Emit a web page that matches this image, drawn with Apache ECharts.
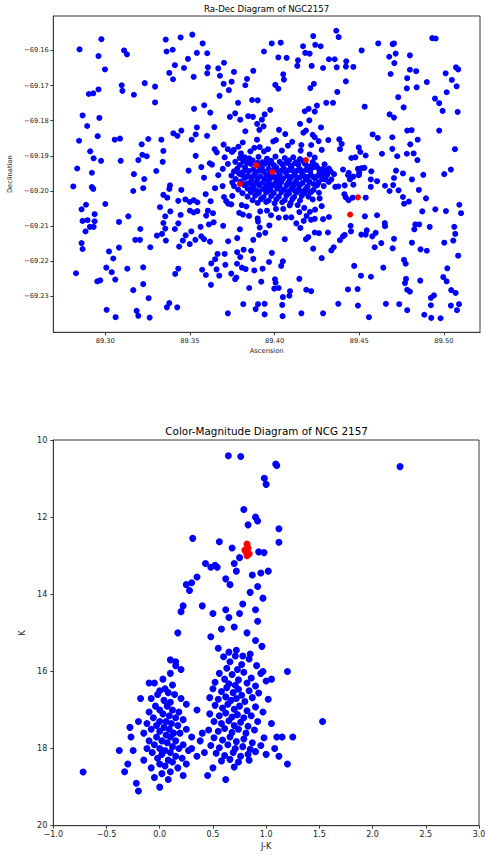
<!DOCTYPE html>
<html><head><meta charset="utf-8">
<script src="https://cdn.jsdelivr.net/npm/echarts@6/dist/echarts.min.js"></script>
<style>html,body{margin:0;padding:0;background:#fff}#c{width:485px;height:855px}</style>
</head><body><div id="c"></div>
<script>
// ---- Ra-Dec diagram data ----
const raDecField = [
[89.2848,-69.1597],[89.2977,-69.1568],[89.2960,-69.1616],[89.2998,-69.1654],[89.3111,-69.1600],[89.3128,-69.1611],[89.3357,-69.1569],[89.3445,-69.1563],[89.3514,-69.1555],[89.3362,-69.1603],[89.3398,-69.1598],[89.3488,-69.1624],[89.3411,-69.1642],[89.3465,-69.1650],[89.3378,-69.1664],[89.3400,-69.1682],[89.3522,-69.1675],[89.3541,-69.1607],[89.3097,-69.1699],[89.3101,-69.1715],[89.2960,-69.1711],[89.2903,-69.1724],[89.2929,-69.1722],[89.3169,-69.1726],[89.3233,-69.1693],[89.3294,-69.1703],[89.3294,-69.1748],[89.3524,-69.1766],[89.2866,-69.1785],[89.2965,-69.1792],[89.2893,-69.1815],[89.2845,-69.1857],[89.2955,-69.1844],[89.3056,-69.1854],[89.3087,-69.1851],[89.3215,-69.1867],[89.3254,-69.1852],[89.3331,-69.1854],[89.3402,-69.1836],[89.3426,-69.1843],[89.3449,-69.1828],[89.3510,-69.1854],[89.3534,-69.1839],[89.3541,-69.1819],[89.2911,-69.1887],[89.2931,-69.1907],[89.2975,-69.1914],[89.3091,-69.1914],[89.3195,-69.1912],[89.3219,-69.1897],[89.3245,-69.1901],[89.3343,-69.1886],[89.3339,-69.1917],[89.3534,-69.1900],[89.2834,-69.1936],[89.2921,-69.1948],[89.3169,-69.1952],[89.3301,-69.1943],[89.3492,-69.1942],
[89.3575,-69.1580],[89.3602,-69.1608],[89.3606,-69.1648],[89.3602,-69.1665],[89.3667,-69.1651],[89.3701,-69.1635],[89.3677,-69.1672],[89.3760,-69.1661],[89.3699,-69.1695],[89.3746,-69.1689],[89.3730,-69.1713],[89.3837,-69.1681],[89.3827,-69.1699],[89.3874,-69.1658],[89.3937,-69.1603],[89.3983,-69.1580],[89.4036,-69.1578],[89.4022,-69.1620],[89.4071,-69.1621],[89.4138,-69.1628],[89.4134,-69.1644],[89.4168,-69.1588],[89.4181,-69.1607],[89.4207,-69.1609],[89.4228,-69.1559],[89.4240,-69.1584],[89.4272,-69.1588],[89.4219,-69.1644],[89.4286,-69.1650],[89.4321,-69.1625],[89.4364,-69.1544],[89.4378,-69.1562],[89.4355,-69.1625],[89.4367,-69.1648],[89.4051,-69.1668],[89.4055,-69.1683],[89.4004,-69.1698],[89.4022,-69.1709],[89.4232,-69.1695],[89.4211,-69.1707],[89.4370,-69.1718],[89.3675,-69.1729],[89.3584,-69.1756],[89.3620,-69.1777],[89.3784,-69.1749],[89.3867,-69.1741],[89.3900,-69.1742],[89.3974,-69.1769],[89.3736,-69.1789],[89.3767,-69.1779],[89.3797,-69.1797],[89.3844,-69.1787],[89.3872,-69.1789],[89.3897,-69.1809],[89.3925,-69.1797],[89.3941,-69.1782],[89.3935,-69.1816],[89.3910,-69.1826],[89.3827,-69.1830],[89.3644,-69.1818],[89.3601,-69.1843],[89.4026,-69.1826],[89.4063,-69.1838],[89.4008,-69.1855],[89.3896,-69.1854],[89.4178,-69.1773],[89.4201,-69.1766],[89.4237,-69.1774],[89.4250,-69.1757],[89.4305,-69.1749],[89.4345,-69.1749],[89.4150,-69.1809],[89.4205,-69.1799],[89.4170,-69.1834],[89.4185,-69.1828],[89.4225,-69.1840],[89.4237,-69.1847],[89.4260,-69.1858],[89.4274,-69.1819],[89.4317,-69.1855],[89.4382,-69.1853],[89.4278,-69.1883],[89.4216,-69.1869],[89.4158,-69.1869],[89.4104,-69.1860],[89.4079,-69.1871],[89.4043,-69.1885],[89.3992,-69.1859],[89.3961,-69.1881],[89.3937,-69.1887],[89.3912,-69.1875],[89.3880,-69.1877],[89.3857,-69.1887],[89.3812,-69.1862],[89.3786,-69.1874],[89.3759,-69.1883],[89.3724,-69.1881],[89.3699,-69.1868],[89.3646,-69.1881],[89.3658,-69.1890],[89.3705,-69.1904],[89.3748,-69.1889],[89.3801,-69.1893],[89.3617,-69.1921],[89.3630,-69.1925],[89.3567,-69.1932],[89.3694,-69.1937],[89.3724,-69.1923],[89.3768,-69.1917],[89.3794,-69.1906],[89.3824,-69.1904],[89.3839,-69.1920],[89.4154,-69.1885],[89.4207,-69.1896],[89.4237,-69.1905],[89.4254,-69.1934],[89.4286,-69.1937],[89.4331,-69.1944],[89.4351,-69.1952],[89.4386,-69.1881],[89.4205,-69.1931],
[89.4514,-69.1600],[89.4612,-69.1580],[89.4697,-69.1582],[89.4705,-69.1580],[89.4677,-69.1618],[89.4715,-69.1609],[89.4707,-69.1636],[89.4799,-69.1614],[89.4931,-69.1565],[89.4951,-69.1566],[89.4423,-69.1631],[89.4421,-69.1646],[89.4465,-69.1647],[89.4421,-69.1688],[89.4685,-69.1667],[89.4783,-69.1679],[89.4799,-69.1655],[89.4836,-69.1659],[89.4781,-69.1708],[89.4839,-69.1705],[89.4899,-69.1690],[89.5010,-69.1665],[89.5047,-69.1684],[89.5071,-69.1648],[89.5084,-69.1654],[89.5075,-69.1702],[89.5016,-69.1719],[89.4947,-69.1737],[89.4972,-69.1750],[89.4992,-69.1772],[89.5081,-69.1775],[89.4730,-69.1733],[89.4762,-69.1762],[89.4532,-69.1760],[89.4679,-69.1782],[89.4705,-69.1791],[89.4579,-69.1839],[89.4609,-69.1849],[89.4695,-69.1847],[89.4783,-69.1828],[89.4809,-69.1827],[89.4972,-69.1828],[89.4845,-69.1854],[89.4801,-69.1867],[89.4695,-69.1880],[89.4724,-69.1901],[89.4781,-69.1894],[89.4821,-69.1893],[89.4843,-69.1912],[89.4634,-69.1894],[89.5065,-69.1881],[89.4396,-69.1866],[89.4453,-69.1906],[89.4477,-69.1904],[89.4497,-69.1876],[89.4506,-69.1889],[89.4538,-69.1899],[89.4404,-69.1939],[89.4438,-69.1948],[89.4492,-69.1937],[89.4514,-69.1935],[89.4530,-69.1934],[89.4571,-69.1944],[89.4500,-69.1948],[89.4717,-69.1942],[89.4758,-69.1950],[89.4878,-69.1954],[89.5002,-69.1952],[89.5041,-69.1939],
[89.3230,-69.1966],[89.2811,-69.1987],[89.2921,-69.1989],[89.2929,-69.1994],[89.3165,-69.2000],[89.3224,-69.1992],[89.3382,-69.1984],[89.3378,-69.1994],[89.3449,-69.1997],[89.3343,-69.2011],[89.3366,-69.2019],[89.3431,-69.2028],[89.3473,-69.2024],[89.3499,-69.2031],[89.3522,-69.2026],[89.3544,-69.2032],[89.2860,-69.2052],[89.2886,-69.2039],[89.3000,-69.2037],[89.3323,-69.2046],[89.3384,-69.2058],[89.3354,-69.2072],[89.3445,-69.2068],[89.3500,-69.2056],[89.3522,-69.2061],[89.3544,-69.2057],[89.2937,-69.2066],[89.2866,-69.2085],[89.2895,-69.2083],[89.2937,-69.2086],[89.2909,-69.2102],[89.2931,-69.2102],[89.2883,-69.2115],[89.3081,-69.2088],[89.3136,-69.2072],[89.3343,-69.2091],[89.3431,-69.2092],[89.3411,-69.2108],[89.3354,-69.2107],[89.3335,-69.2122],[89.3305,-69.2127],[89.3358,-69.2141],[89.3207,-69.2108],[89.3177,-69.2139],[89.3205,-69.2139],[89.3266,-69.2160],[89.3458,-69.2141],[89.3475,-69.2126],[89.3508,-69.2115],[89.3499,-69.2151],[89.3436,-69.2158],[89.3532,-69.2139],[89.2860,-69.2148],[89.2866,-69.2165],[89.3022,-69.2172],[89.3081,-69.2161],[89.3047,-69.2192],[89.2827,-69.2234],[89.3006,-69.2218],[89.3038,-69.2231],[89.3059,-69.2252],[89.2953,-69.2257],[89.2970,-69.2254],[89.3130,-69.2221],[89.3224,-69.2217],[89.3224,-69.2265],[89.3165,-69.2282],[89.3256,-69.2305],[89.3413,-69.2236],[89.3431,-69.2221],[89.3378,-69.2319],[89.3364,-69.2331],[89.3425,-69.2331],[89.3008,-69.2338],[89.3061,-69.2359],[89.3185,-69.2341],[89.3195,-69.2355],[89.3262,-69.2360],
[89.3583,-69.1962],[89.3667,-69.1955],[89.3693,-69.1986],[89.3648,-69.1992],[89.3593,-69.2009],[89.3622,-69.2029],[89.3606,-69.2056],[89.3636,-69.2063],[89.3596,-69.2070],[89.3640,-69.2089],[89.3612,-69.2095],[89.3563,-69.2102],[89.3696,-69.2099],[89.3567,-69.2129],[89.3583,-69.2137],[89.3618,-69.2144],[89.3726,-69.2143],[89.3795,-69.2109],[89.3779,-69.2134],[89.3874,-69.2139],[89.3908,-69.2125],[89.3945,-69.2119],[89.4060,-69.2137],[89.3817,-69.2167],[89.3861,-69.2170],[89.3779,-69.2174],[89.3797,-69.2188],[89.3705,-69.2179],[89.3663,-69.2179],[89.3649,-69.2194],[89.3626,-69.2206],[89.3572,-69.2224],[89.3594,-69.2239],[89.3657,-69.2223],[89.3673,-69.2241],[89.3709,-69.2210],[89.3744,-69.2235],[89.3778,-69.2207],[89.3774,-69.2246],[89.3767,-69.2251],[89.3807,-69.2218],[89.3829,-69.2222],[89.3880,-69.2226],[89.3874,-69.2193],[89.3929,-69.2221],[89.3967,-69.2202],[89.3984,-69.2176],[89.4039,-69.2213],[89.4049,-69.2200],[89.3921,-69.2258],[89.4002,-69.2251],[89.4006,-69.2261],[89.3998,-69.2278],[89.4024,-69.2276],[89.3850,-69.2276],[89.3624,-69.2267],[89.4146,-69.2250],[89.4091,-69.2285],[89.4087,-69.2298],[89.4049,-69.2302],[89.4187,-69.2281],[89.4216,-69.2285],[89.4228,-69.2164],[89.4278,-69.2191],[89.4335,-69.2169],[89.4349,-69.2160],[89.4386,-69.2140],[89.4315,-69.2118],[89.4237,-69.2118],[89.4262,-69.2120],[89.4185,-69.2137],[89.4199,-69.2131],[89.3815,-69.2322],[89.3902,-69.2322],[89.3941,-69.2321],[89.3888,-69.2336],[89.3941,-69.2351],[89.4045,-69.2324],[89.4047,-69.2356],[89.3724,-69.2348],[89.4158,-69.2348],[89.4286,-69.2348],[89.4376,-69.2321],[89.4321,-69.2074],[89.4286,-69.2080],[89.4358,-69.1988],[89.4376,-69.1987],[89.4335,-69.1967],[89.4299,-69.1967],[89.4239,-69.2053],[89.4278,-69.2043],[89.4266,-69.2021],[89.4262,-69.2005],[89.4225,-69.2024],[89.4175,-69.2048],[89.4209,-69.2059],[89.4215,-69.2082],[89.4172,-69.2085],[89.4152,-69.2105],[89.4128,-69.2092],[89.4099,-69.2075],[89.4067,-69.2075],[89.4024,-69.2076],[89.3979,-69.2069],[89.3969,-69.2098],[89.3912,-69.2104],[89.3902,-69.2087],[89.3900,-69.2078],[89.3915,-69.2058],[89.3955,-69.2056],[89.3849,-69.2071],[89.3813,-69.2067],[89.3791,-69.2062],[89.3806,-69.2040],[89.3833,-69.2044],[89.4008,-69.2051],[89.4051,-69.2051],[89.4089,-69.2041],[89.4136,-69.2040],[89.4146,-69.2060],[89.4189,-69.2071],[89.4237,-69.2079],[89.3726,-69.2036],[89.3750,-69.2014],[89.3701,-69.2017],[89.3714,-69.2029],[89.3744,-69.2038],
[89.4434,-69.1955],[89.4445,-69.1967],[89.4465,-69.1959],[89.4497,-69.1955],[89.4568,-69.1967],[89.4605,-69.1972],[89.4705,-69.1963],[89.4811,-69.1967],[89.4414,-69.1984],[89.4465,-69.1982],[89.4568,-69.1988],[89.4652,-69.1985],[89.4700,-69.1983],[89.4679,-69.2000],[89.4732,-69.1998],[89.4852,-69.1997],[89.4412,-69.2009],[89.4420,-69.2018],[89.4437,-69.2026],[89.4461,-69.2019],[89.4538,-69.2019],[89.4758,-69.2017],[89.4765,-69.2036],[89.4793,-69.2030],[89.4894,-69.2021],[89.4533,-69.2072],[89.4605,-69.2069],[89.4651,-69.2091],[89.4652,-69.2100],[89.4449,-69.2099],[89.4451,-69.2115],[89.4414,-69.2125],[89.4404,-69.2129],[89.4512,-69.2124],[89.4544,-69.2112],[89.4538,-69.2124],[89.4577,-69.2129],[89.4597,-69.2119],[89.4591,-69.2160],[89.4630,-69.2148],[89.4705,-69.2136],[89.4697,-69.2163],[89.4811,-69.2147],[89.4831,-69.2095],[89.4854,-69.2095],[89.4825,-69.2109],[89.4872,-69.2058],[89.4949,-69.2052],[89.5012,-69.2057],[89.5091,-69.2039],[89.5101,-69.2063],[89.4916,-69.2102],[89.5061,-69.2102],[89.5067,-69.2122],[89.5055,-69.2141],[89.5002,-69.2147],[89.4862,-69.2166],[89.4899,-69.2170],[89.5084,-69.2184],[89.4470,-69.2213],[89.4642,-69.2218],[89.4764,-69.2196],[89.4774,-69.2207],[89.5020,-69.2220],[89.4510,-69.2241],[89.4569,-69.2244],[89.4776,-69.2250],[89.4770,-69.2262],[89.4860,-69.2255],[89.4996,-69.2245],[89.5016,-69.2257],[89.4433,-69.2280],[89.4490,-69.2279],[89.4783,-69.2281],[89.4799,-69.2286],[89.5043,-69.2282],[89.5069,-69.2290],[89.4941,-69.2297],[89.4923,-69.2304],[89.4492,-69.2326],[89.4657,-69.2321],[89.4736,-69.2322],[89.4783,-69.2339],[89.4923,-69.2325],[89.5041,-69.2326],[89.5089,-69.2322],[89.5077,-69.2339],[89.4884,-69.2352],[89.4925,-69.2361],[89.4980,-69.2362],[89.4557,-69.2359]
];
const raDecCore = [
[89.3850,-69.1907],[89.3905,-69.1903],[89.3955,-69.1908],[89.4005,-69.1902],[89.4060,-69.1906],[89.4110,-69.1904],[89.4150,-69.1909],
[89.3815,-69.1916],[89.3870,-69.1913],[89.3930,-69.1918],[89.3980,-69.1914],[89.4030,-69.1917],[89.4085,-69.1913],[89.4130,-69.1918],[89.4170,-69.1915],[89.4225,-69.1918],
[89.3795,-69.1926],[89.3860,-69.1923],[89.3910,-69.1927],[89.3945,-69.1922],[89.3995,-69.1926],[89.4045,-69.1924],[89.4095,-69.1928],[89.4140,-69.1925],[89.4180,-69.1923],[89.4245,-69.1927],[89.4295,-69.1924],
[89.3780,-69.1936],[89.3825,-69.1933],[89.3875,-69.1938],[89.3925,-69.1934],[89.3965,-69.1937],[89.4010,-69.1933],[89.4055,-69.1936],[89.4100,-69.1934],[89.4150,-69.1938],[89.4195,-69.1935],[89.4230,-69.1932],[89.4320,-69.1936],
[89.3760,-69.1944],[89.3810,-69.1947],[89.3850,-69.1943],[89.3890,-69.1946],[89.3935,-69.1944],[89.3975,-69.1948],[89.4020,-69.1944],[89.4065,-69.1947],[89.4110,-69.1943],[89.4160,-69.1946],[89.4210,-69.1944],[89.4265,-69.1948],[89.4300,-69.1945],
[89.3745,-69.1956],[89.3800,-69.1953],[89.3840,-69.1957],[89.3880,-69.1954],[89.3915,-69.1958],[89.3950,-69.1953],[89.3990,-69.1956],[89.4030,-69.1954],[89.4075,-69.1957],[89.4120,-69.1953],[89.4170,-69.1956],[89.4215,-69.1955],[89.4250,-69.1958],[89.4310,-69.1954],
[89.3770,-69.1966],[89.3825,-69.1963],[89.3865,-69.1967],[89.3900,-69.1964],[89.3940,-69.1966],[89.3980,-69.1963],[89.4015,-69.1967],[89.4050,-69.1964],[89.4090,-69.1966],[89.4135,-69.1963],[89.4185,-69.1967],[89.4240,-69.1964],[89.4280,-69.1966],
[89.3750,-69.1976],[89.3800,-69.1973],[89.3850,-69.1977],[89.3895,-69.1974],[89.3930,-69.1976],[89.3965,-69.1973],[89.4005,-69.1977],[89.4040,-69.1974],[89.4080,-69.1976],[89.4125,-69.1973],[89.4165,-69.1977],[89.4205,-69.1974],[89.4260,-69.1976],[89.4320,-69.1974],
[89.3760,-69.1986],[89.3820,-69.1983],[89.3870,-69.1987],[89.3910,-69.1984],[89.3950,-69.1986],[89.3990,-69.1983],[89.4030,-69.1987],[89.4070,-69.1984],[89.4110,-69.1986],[89.4150,-69.1983],[89.4195,-69.1987],[89.4250,-69.1984],[89.4290,-69.1986],
[89.3785,-69.1996],[89.3840,-69.1993],[89.3885,-69.1997],[89.3935,-69.1994],[89.3975,-69.1996],[89.4015,-69.1993],[89.4055,-69.1997],[89.4100,-69.1994],[89.4140,-69.1996],[89.4185,-69.1993],[89.4230,-69.1997],
[89.3810,-69.2006],[89.3860,-69.2003],[89.3905,-69.2007],[89.3950,-69.2004],[89.3995,-69.2006],[89.4040,-69.2003],[89.4085,-69.2007],[89.4130,-69.2004],[89.4175,-69.2006],[89.4215,-69.2003],
[89.3840,-69.2016],[89.3885,-69.2013],[89.3935,-69.2017],[89.3980,-69.2014],[89.4025,-69.2016],[89.4070,-69.2013],[89.4115,-69.2017],[89.4160,-69.2014],[89.4200,-69.2016],
[89.3870,-69.2026],[89.3920,-69.2023],[89.3965,-69.2027],[89.4010,-69.2024],[89.4060,-69.2026],[89.4105,-69.2023],[89.4150,-69.2027],
[89.3900,-69.2034],[89.3950,-69.2031],[89.4000,-69.2035],[89.4045,-69.2032],[89.4095,-69.2034],
[89.3830,-69.1940],[89.3912,-69.1941],[89.3995,-69.1940],[89.4042,-69.1941],[89.4088,-69.1940],[89.4135,-69.1941],[89.4185,-69.1940],
[89.3820,-69.1960],[89.3860,-69.1961],[89.3970,-69.1960],[89.4010,-69.1961],[89.4100,-69.1960],[89.4150,-69.1961],[89.4195,-69.1960],[89.4230,-69.1961],
[89.3830,-69.1980],[89.3880,-69.1981],[89.3970,-69.1980],[89.4020,-69.1981],[89.4100,-69.1980],[89.4140,-69.1981],[89.4230,-69.1980],
[89.3860,-69.2000],[89.3910,-69.2001],[89.3960,-69.2000],[89.4080,-69.2001],[89.4120,-69.2000],[89.4160,-69.2001],[89.4200,-69.2000],
[89.3900,-69.1920],[89.3970,-69.1921],[89.4070,-69.1920],[89.4120,-69.1921],[89.4200,-69.1930],[89.4270,-69.1940],[89.4280,-69.1955],[89.3790,-69.1950]
];
const raDecRed = [[89.3892,-69.1927],[89.3986,-69.1946],[89.4185,-69.1912],[89.3795,-69.1980],[89.4492,-69.2018],[89.4446,-69.2067]];

// ---- Colour-magnitude diagram data: [J-K, K] ----
const cmdBright = [
[0.645,10.41],[0.761,10.43],[1.09,10.62],[1.10,10.66],[2.258,10.69],[0.983,10.99],[1.0,11.15],
[0.79,11.8],[0.83,12.2],[0.90,12.0],[0.92,12.1],[1.12,12.3],[1.12,12.65],[0.31,12.55],[0.56,12.64],
[0.93,12.9],[0.98,12.92],[0.68,12.8],[0.75,13.05],[0.70,13.2],[0.43,13.2],[0.48,13.3],[0.52,13.25],[0.54,13.3],
[0.72,13.4],[0.95,13.45],[1.02,13.4],[0.87,13.5],[0.35,13.55],[0.30,13.7],[0.25,13.75],[0.62,13.6],[0.66,13.75],
[0.92,13.8],[0.85,13.95],[0.97,14.1],[0.28,13.9],[0.22,14.3],[0.20,14.45],[0.40,14.3],[0.50,14.5],[0.62,14.4],
[0.65,14.6],[0.75,14.5],[0.78,14.25],[0.90,14.4],[0.92,14.7],[0.70,14.85],[0.58,14.9],[0.17,15.0],[0.48,15.1],
[0.82,15.0],[0.90,15.2],[0.96,15.35],[0.55,15.4],[0.65,15.5],[0.72,15.45],[0.78,15.6],[0.85,15.55],[0.10,15.7],[0.15,15.85]
];
const cmdGiants = [
[0.60,15.62],[0.66,15.75],[0.71,15.6],[0.77,15.82],[0.84,15.68],[0.91,15.85],[0.63,15.92],[0.73,15.95],
[0.56,16.05],[0.61,16.2],[0.68,16.08],[0.74,16.22],[0.79,16.02],[0.86,16.17],[0.95,16.05],[0.52,16.28],[0.65,16.32],[0.71,16.36],[0.82,16.3],[0.90,16.38],[1.00,16.25],
[0.50,16.45],[0.58,16.52],[0.63,16.42],[0.69,16.55],[0.74,16.46],[0.77,16.62],[0.84,16.5],[0.93,16.56],[0.47,16.68],[0.55,16.72],[0.62,16.66],[0.67,16.75],[0.72,16.7],[0.80,16.78],[0.87,16.68],[1.02,16.72],
[0.52,16.88],[0.59,16.95],[0.64,16.85],[0.70,16.98],[0.75,16.9],[0.82,17.02],[0.90,16.92],[0.97,17.05],[0.47,17.1],[0.56,17.15],[0.62,17.08],[0.68,17.18],[0.73,17.12],[0.79,17.2],[0.86,17.15],
[0.51,17.3],[0.58,17.35],[0.65,17.28],[0.70,17.4],[0.76,17.32],[0.83,17.42],[0.92,17.3],[1.05,17.35],[0.46,17.52],[0.55,17.55],[0.61,17.48],[0.68,17.58],[0.74,17.5],[0.81,17.6],[0.89,17.52],
[0.51,17.72],[0.59,17.78],[0.66,17.7],[0.72,17.82],[0.79,17.75],[0.87,17.85],[0.98,17.72],[1.10,17.7],[0.48,17.92],[0.56,17.98],[0.64,17.9],[0.71,18.0],[0.78,17.95],[0.85,18.02],[0.95,17.92],
[0.53,18.12],[0.61,18.18],[0.69,18.1],[0.76,18.2],[0.83,18.15],[0.90,18.08],[1.00,18.15],[0.58,18.32],[0.66,18.28],[0.74,18.35],[0.84,18.3],[0.50,18.5],[0.70,18.48],
[1.20,16.0],[1.05,16.2],[1.15,17.7],[1.25,17.7],[1.20,18.4],[0.35,17.0],[0.40,17.6],[0.35,18.2],[0.30,18.0],[0.45,18.7],[0.62,18.8],[1.53,17.3],
[1.08,18.0],[1.12,18.2],[0.97,16.0],[0.42,18.1],[0.38,17.8]
];
const cmdDwarfs = [
[0.15,15.75],[0.20,15.95],[0.10,16.05],[0.03,16.2],[-0.05,16.3],[-0.10,16.3],[0.12,16.35],[0.05,16.45],[0.00,16.5],[0.08,16.55],[-0.02,16.6],[0.14,16.6],[0.20,16.7],[-0.08,16.7],[0.04,16.75],[0.10,16.8],[0.25,16.85],[-0.04,16.9],[0.07,16.9],[0.00,17.0],[0.12,17.0],[0.18,17.05],[-0.10,17.05],[0.03,17.1],[0.09,17.15],[-0.06,17.2],[0.15,17.2],[0.22,17.25],[0.00,17.3],[0.06,17.3],[0.11,17.35],[-0.12,17.35],[-0.03,17.4],[0.17,17.4],[0.04,17.45],[0.09,17.5],[0.25,17.5],[-0.08,17.5],[0.00,17.55],[0.13,17.6],[0.19,17.6],[-0.15,17.6],[0.06,17.65],[-0.03,17.7],[0.10,17.7],[0.30,17.7],[0.02,17.8],[0.15,17.8],[-0.10,17.8],[0.07,17.85],[0.22,17.9],[-0.05,17.9],[0.12,17.95],[0.00,18.0],[0.18,18.0],[-0.12,18.0],[0.05,18.05],[0.27,18.05],[0.10,18.1],[-0.07,18.1],[0.02,18.15],[0.15,18.2],[-0.02,18.25],[0.21,18.25],[0.08,18.3],[-0.15,18.3],[0.12,18.35],[0.00,18.4],[0.25,18.4],[0.05,18.45],[-0.08,18.5],[0.17,18.5],[0.10,18.6],[0.02,18.65],[0.22,18.7],[-0.05,18.75],[0.08,18.8],[0.00,19.0],
[-0.25,18.05],[-0.30,18.4],[-0.28,17.45],[-0.33,18.6],[-0.22,18.9],[-0.20,19.1],[-0.38,18.05],[-0.27,17.7],[-0.20,17.3],[-0.18,16.7],[-0.72,18.61]
];
const cmdRed = [[0.82,12.7],[0.83,12.8],[0.81,12.9],[0.84,12.95],[0.82,13.0],[0.80,12.85]];

const raTicks = [89.30, 89.35, 89.40, 89.45, 89.50];
const decTicks = [-69.16, -69.17, -69.18, -69.19, -69.20, -69.21, -69.22, -69.23];

const FONT = '"DejaVu Sans", sans-serif';
const minus = s => s.replace('-', '\u2212');
const axisCol = '#3a3a3a';
const chart = echarts.init(document.getElementById('c'), null, {renderer: 'svg'});

function axisCommon(fs, margin) {
  return {
    splitLine: {show: false},
    axisLine: {show: true, onZero: false, lineStyle: {color: axisCol, width: 1}},
    axisTick: {show: true, inside: false, length: 3, lineStyle: {color: axisCol, width: 1}},
    axisLabel: {fontFamily: FONT, fontSize: fs, color: '#222', margin: margin},
    nameTextStyle: {fontFamily: FONT, fontSize: fs, color: '#222'}
  };
}

function scatter(xi, data, color, size, z) {
  return {type: 'scatter', xAxisIndex: xi, yAxisIndex: xi, symbolSize: size, z: z,
    itemStyle: {color: color, opacity: 1}, emphasis: {disabled: true}, silent: true, data: data};
}

const option = {
  animation: false,
  backgroundColor: '#fff',
  tooltip: {show: false},
  graphic: [
    {type: 'text', x: 266.6, y: 9, style: {text: 'Ra-Dec Diagram of NGC2157', font: 'normal 8.6px "DejaVu Sans"', fill: '#000', align: 'center', verticalAlign: 'middle', textAlign: 'center', textVerticalAlign: 'middle'}},
    {type: 'text', x: 266.6, y: 431, style: {text: 'Color-Magnitude Diagram of NCG 2157', font: 'normal 10.4px "DejaVu Sans"', fill: '#000', align: 'center', verticalAlign: 'middle', textAlign: 'center', textVerticalAlign: 'middle'}}
  ],
  grid: [
    {left: 53.3, top: 16, width: 426.7, height: 316.3, show: true, borderColor: axisCol, borderWidth: 1, backgroundColor: 'transparent', containLabel: false, outerBoundsMode: 'none'},
    {left: 53.3, top: 440, width: 425.7, height: 385.7, show: true, borderColor: axisCol, borderWidth: 1, backgroundColor: 'transparent', containLabel: false, outerBoundsMode: 'none'}
  ],
  xAxis: [
    Object.assign(axisCommon(6.7, 5), {
      gridIndex: 0, type: 'value', min: 89.2693, max: 89.5213,
      name: 'Ascension', nameLocation: 'middle', nameGap: 15,
      axisLabel: {fontFamily: FONT, fontSize: 6.7, color: '#222', margin: 5, customValues: raTicks, formatter: v => v.toFixed(2)},
      axisTick: {show: true, length: 3, lineStyle: {color: axisCol}, customValues: raTicks}
    }),
    Object.assign(axisCommon(8, 5), {
      gridIndex: 1, type: 'value', min: -1, max: 3, interval: 0.5,
      name: 'J-K', nameLocation: 'middle', nameGap: 17,
      axisLabel: {fontFamily: FONT, fontSize: 8, color: '#222', margin: 5, formatter: v => minus(v.toFixed(1))}
    })
  ],
  yAxis: [
    Object.assign(axisCommon(6.7, 4.5), {
      gridIndex: 0, type: 'value', min: -69.2402, max: -69.1502,
      name: 'Declination', nameLocation: 'middle', nameGap: 35,
      axisLabel: {fontFamily: FONT, fontSize: 6.7, color: '#222', margin: 4.5, customValues: decTicks, formatter: v => minus(v.toFixed(2))},
      axisTick: {show: true, length: 3, lineStyle: {color: axisCol}, customValues: decTicks}
    }),
    Object.assign(axisCommon(8, 6), {
      gridIndex: 1, type: 'value', min: 10, max: 20, interval: 2, inverse: true,
      name: 'K', nameLocation: 'middle', nameGap: 20,
      axisLabel: {fontFamily: FONT, fontSize: 8, color: '#222', margin: 6, formatter: v => String(v)}
    })
  ],
  series: [
    scatter(0, raDecField.concat(raDecCore), '#0000ff', 6, 2),
    scatter(0, raDecRed, '#ff0000', 6, 3),
    scatter(1, cmdBright.concat(cmdGiants, cmdDwarfs), '#0000ff', 7, 2),
    scatter(1, cmdRed, '#ff0000', 7, 3)
  ]
};
chart.setOption(option);
</script>
</body></html>
